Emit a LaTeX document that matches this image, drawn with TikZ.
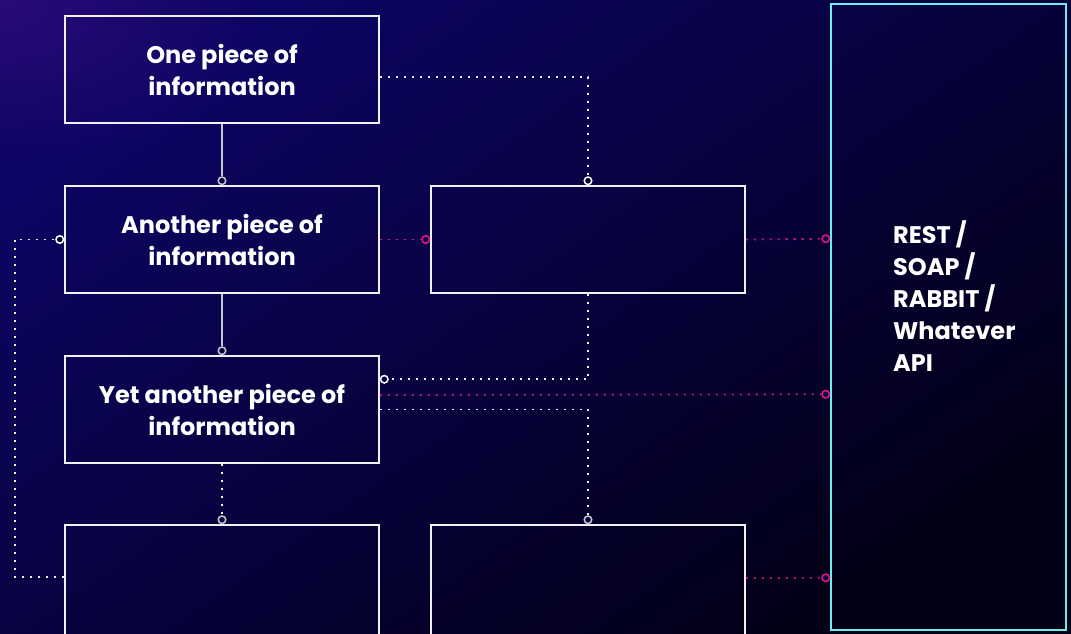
\documentclass[tikz,border=0pt]{standalone}
\usepackage{fontspec}
\setmainfont{Poppins}
\usetikzlibrary{fadings}
\tikzfading[name=glowfade, inner color=transparent!0, outer color=transparent!100]
\definecolor{bgA}{RGB}{12,5,100}
\definecolor{bgM}{RGB}{5,2,72}
\definecolor{bgB}{RGB}{2,0,22}
\definecolor{glow}{RGB}{48,12,122}
\definecolor{bgfill}{RGB}{5,2,65}
\definecolor{boxline}{RGB}{240,240,245}
\definecolor{solidc}{RGB}{200,200,205}
\definecolor{pinkc}{RGB}{232,20,128}
\definecolor{cyanc}{RGB}{110,238,238}
\tikzset{
  infobox/.style={draw=boxline, line width=1.5pt, minimum width=314pt, minimum height=107pt, inner sep=0pt, align=center, text=white, font=\bfseries\fontsize{24}{32}\selectfont},
  apibox/.style={draw=cyanc, line width=1.5pt, minimum width=235pt, minimum height=626pt, inner sep=0pt},
  ring/.style={circle, draw=#1, fill=bgfill, line width=1.5pt, minimum size=7.5pt, inner sep=0pt},
  ring/.default=white,
  solidcon/.style={draw=solidc, line width=1.4pt},
  wdots/.style={draw=white!88!gray, line width=1.8pt, dash pattern=on 1.8pt off 6.2pt},
  pdots/.style={draw=pinkc, line width=1.8pt, dash pattern=on 1.8pt off 6.2pt},
}
\begin{document}
\begin{tikzpicture}[x=1pt,y=-1pt]
\useasboundingbox (0,0) rectangle (1071,633);
\shade[top color=bgA, middle color=bgM, bottom color=bgB, shading angle=35] (0,0) rectangle (1071,633);
\clip (0,0) rectangle (1071,633);
\fill[glow, path fading=glowfade, opacity=0.85] (0,0) ellipse [x radius=280pt, y radius=170pt];

\node[infobox] (b1) at (222,69.5) {One piece of\\information};
\node[infobox] (b2) at (222,239.5) {Another piece of\\information};
\node[infobox] (b3) at (222,409.5) {Yet another piece of\\information};
\node[infobox, minimum height=112pt] (b4) at (222,581) {};
\node[infobox] (b5) at (588,239.5) {};
\node[infobox, minimum height=112pt] (b6) at (588,581) {};
\node[apibox] (api) at (948.5,317) {};
\node[anchor=west, align=left, text=white, inner sep=0pt, font=\bfseries\fontsize{24}{32}\selectfont] (apitext) at (893,296) {REST /\\SOAP /\\RABBIT /\\Whatever\\API};

% ring end points
\node[ring=solidc, anchor=south] (r2top) at (b2.north) {};
\node[ring=solidc, anchor=south] (r3top) at (b3.north) {};
\node[ring=solidc, anchor=south] (r4top) at (b4.north) {};
\node[ring, anchor=south] (r5top) at (b5.north) {};
\node[ring=solidc, anchor=south] (r6top) at (b6.north) {};
\node[ring=pinkc, anchor=east] (r5left) at (b5.west) {};
\node[ring, anchor=east] (r2left) at (b2.west) {};
\node[ring, anchor=west] (r3right) at ([yshift=-24pt]b3.north east) {};
\node[ring=pinkc, anchor=east] (ra1) at ([yshift=-235.5pt]api.north west) {};
\node[ring=pinkc, anchor=east] (ra2) at ([yshift=-391pt]api.north west) {};
\node[ring=pinkc, anchor=east] (ra3) at ([yshift=-574.5pt]api.north west) {};

% solid connectors
\draw[solidcon] (b1.south) -- (r2top);
\draw[solidcon] (b2.south) -- (r3top);

% white dotted
\draw[wdots] ([yshift=-7.5pt]b1.east) -| (r5top);
\draw[wdots] (b5.south) |- (r3right);
\draw[wdots] (b3.east) -| (r6top);
\draw[wdots] (b3.south) -- (r4top);
\draw[wdots] ([yshift=-53pt]b4.north west) -- ++(-49,0) |- (r2left);

% pink dotted
\draw[pdots] (b2.east) -- (r5left);
\draw[pdots] (b5.east) -- (ra1);
\draw[pdots] ([yshift=14.5pt]b3.east) -- (ra2);
\draw[pdots] ([yshift=3pt]b6.east) -- (ra3);
\end{tikzpicture}
\end{document}
